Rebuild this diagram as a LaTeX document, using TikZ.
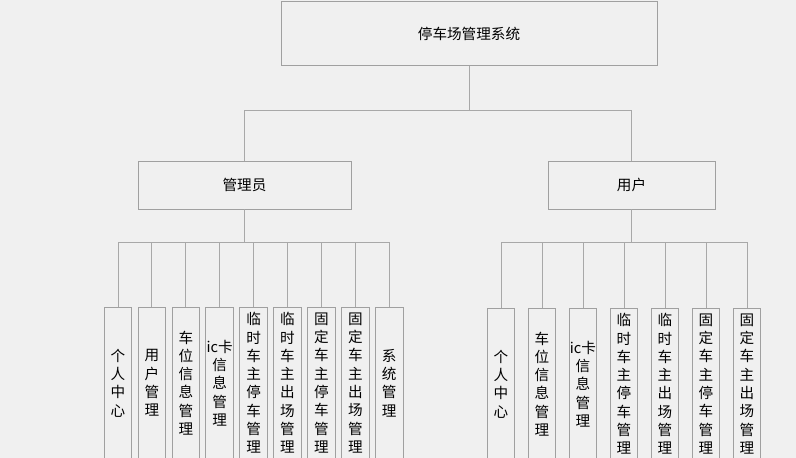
\documentclass[tikz,border=0pt]{standalone}
\usepackage{fontspec}
\setmainfont{Noto Sans CJK SC}
\definecolor{bgfill}{HTML}{F0F0F0}
\definecolor{boxgray}{HTML}{A0A0A0}
\definecolor{linegray}{HTML}{A8A8A8}
\begin{document}
\begin{tikzpicture}[x=1pt,y=-1pt,
  box/.style={draw=boxgray, fill=bgfill, line width=0.9pt, inner sep=0pt, font=\fontsize{14.6}{18.3}\selectfont},
  leaf/.style={box, minimum width=27.7pt, minimum height=151pt, anchor=north, align=center},
  link/.style={draw=linegray, line width=0.9pt}]
\fill[bgfill] (0,0) rectangle (796,458);
\useasboundingbox (0,0) rectangle (796,458);
\clip (0,0) rectangle (796,458);
\node[box, minimum width=376pt, minimum height=64pt] (sys) at (469,33.5) {停车场管理系统};
\node[box, minimum width=213pt, minimum height=48pt] (admin) at (244.5,185) {管理员};
\node[box, minimum width=167pt, minimum height=48pt] (user) at (631.5,185) {用户};
\draw[link] (sys.south) -- ++(0,44.5) -| (admin.north);
\draw[link] (sys.south) -- ++(0,44.5) -| (user.north);
\foreach \t [count=\i] in {{个\\人\\中\\心},{用\\户\\管\\理},{车\\位\\信\\息\\管\\理},{ic卡\\信\\息\\管\\理},{临\\时\\车\\主\\停\\车\\管\\理},{临\\时\\车\\主\\出\\场\\管\\理},{固\\定\\车\\主\\停\\车\\管\\理},{固\\定\\车\\主\\出\\场\\管\\理},{系\\统\\管\\理}}{
  \node[leaf] (L\i) at ({118+(\i-1)*33.9},307) {\t};
  \draw[link] (admin.south) -- ++(0,33) -| (L\i.north);
}
\foreach \t [count=\i] in {{个\\人\\中\\心},{车\\位\\信\\息\\管\\理},{ic卡\\信\\息\\管\\理},{临\\时\\车\\主\\停\\车\\管\\理},{临\\时\\车\\主\\出\\场\\管\\理},{固\\定\\车\\主\\停\\车\\管\\理},{固\\定\\车\\主\\出\\场\\管\\理}}{
  \node[leaf] (R\i) at ({501+(\i-1)*41},308) {\t};
  \draw[link] (user.south) -- ++(0,33) -| (R\i.north);
}
\end{tikzpicture}
\end{document}
